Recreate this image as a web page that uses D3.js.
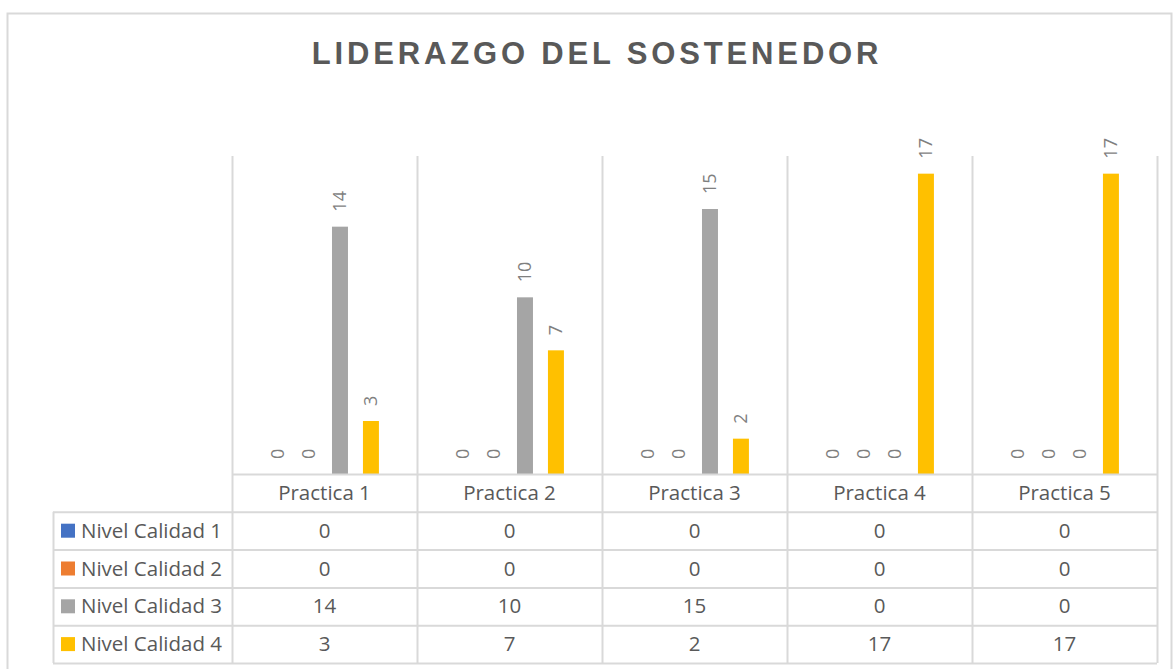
<!DOCTYPE html>
<html>
<head>
<meta charset="utf-8">
<title>Liderazgo del sostenedor</title>
<style>
  body { margin: 0; background: #fff; }
  text { font-family: "Open Sans", "Liberation Sans", sans-serif; }
</style>
</head>
<body>
<script src="https://d3js.org/d3.v7.min.js"></script>
<script>

// Data
var categories = ["Practica 1", "Practica 2", "Practica 3", "Practica 4", "Practica 5"];
var seriesNames = ["Nivel Calidad 1", "Nivel Calidad 2", "Nivel Calidad 3", "Nivel Calidad 4"];
var nivel1 = [0, 0, 0, 0, 0];
var nivel2 = [0, 0, 0, 0, 0];
var nivel3 = [14, 10, 15, 0, 0];
var nivel4 = [3, 7, 2, 17, 17];
var colors = ["#4472C4", "#ED7D31", "#A5A5A5", "#FFC000"];

var values = [nivel1, nivel2, nivel3, nivel4];

var W = 1174, H = 669;
var plotLeft = 232, plotRight = 1157, plotTop = 156, baseY = 474, tableBottom = 663, legendLeft = 53;
var grid = "#d9d9d9", textCol = "#595959";

var svg = d3.select("body").append("svg")
    .attr("width", W)
    .attr("height", H);

// outer frame
svg.append("rect")
    .attr("x", 7.5).attr("y", 13.5)
    .attr("width", 1164).attr("height", 700)
    .attr("fill", "none").attr("stroke", grid).attr("stroke-width", 2);

// title
svg.append("text")
    .attr("x", 597).attr("y", 64)
    .attr("text-anchor", "middle")
    .style("font-family", "'Liberation Sans', Arial, sans-serif")
    .style("font-size", "31px")
    .style("font-weight", "bold")
    .style("letter-spacing", "3.85px")
    .attr("fill", textCol)
    .text("LIDERAZGO DEL SOSTENEDOR");

// scales
var x0 = d3.scaleBand().domain(categories).range([plotLeft, plotRight]).padding(0);
var x1 = d3.scaleBand().domain(seriesNames).range([0, x0.bandwidth()])
    .paddingInner(0.484).paddingOuter(1.23);
var y = d3.scaleLinear().domain([0, 18]).range([baseY, plotTop]);

// vertical gridlines in plot area
var bounds = categories.map(function(c) { return x0(c); }).concat([plotRight]);
svg.selectAll(".vline")
    .data(bounds)
  .enter().append("line")
    .attr("x1", function(d) { return d + 0.5; })
    .attr("x2", function(d) { return d + 0.5; })
    .attr("y1", plotTop).attr("y2", baseY)
    .attr("stroke", grid).attr("stroke-width", 2);

// bars + labels
seriesNames.forEach(function(s, i) {
  var g = svg.append("g");
  g.selectAll("rect")
      .data(values[i])
    .enter().append("rect")
      .attr("x", function(d, j) { return x0(categories[j]) + x1(s); })
      .attr("width", x1.bandwidth())
      .attr("y", function(d) { return y(d); })
      .attr("height", function(d) { return baseY - y(d); })
      .attr("fill", colors[i]);

  g.selectAll("text")
      .data(values[i])
    .enter().append("text")
      .attr("transform", function(d, j) {
        var cx = x0(categories[j]) + x1(s) + x1.bandwidth() / 2;
        return "translate(" + cx + "," + (y(d) - 15) + ")rotate(-90)";
      })
      .attr("dy", "0.35em")
      .style("font-size", "18px")
      .attr("fill", "#7f7f7f")
      .text(function(d) { return d; });
});

// data table
var rows = d3.scaleBand().domain(["header"].concat(seriesNames)).range([baseY, tableBottom]);
var rh = rows.bandwidth();

// horizontal lines
svg.append("line")
    .attr("x1", plotLeft).attr("x2", plotRight)
    .attr("y1", baseY + 0.5).attr("y2", baseY + 0.5)
    .attr("stroke", grid).attr("stroke-width", 2);
seriesNames.forEach(function(s) {
  svg.append("line")
      .attr("x1", legendLeft).attr("x2", plotRight)
      .attr("y1", rows(s) + 0.5).attr("y2", rows(s) + 0.5)
      .attr("stroke", grid).attr("stroke-width", 2);
});
svg.append("line")
    .attr("x1", legendLeft).attr("x2", plotRight)
    .attr("y1", tableBottom + 0.5).attr("y2", tableBottom + 0.5)
    .attr("stroke", grid).attr("stroke-width", 2);

// vertical lines in table
bounds.forEach(function(b) {
  svg.append("line")
      .attr("x1", b + 0.5).attr("x2", b + 0.5)
      .attr("y1", baseY).attr("y2", tableBottom)
      .attr("stroke", grid).attr("stroke-width", 2);
});
svg.append("line")
    .attr("x1", legendLeft + 0.5).attr("x2", legendLeft + 0.5)
    .attr("y1", rows(seriesNames[0])).attr("y2", tableBottom)
    .attr("stroke", grid).attr("stroke-width", 2);

// header texts
svg.selectAll(".cat")
    .data(categories)
  .enter().append("text")
    .attr("x", function(d) { return x0(d) + x0.bandwidth() / 2; })
    .attr("y", rows("header") + rh / 2)
    .attr("dy", "0.35em")
    .attr("text-anchor", "middle")
    .style("font-size", "20.5px")
    .attr("fill", textCol)
    .text(function(d) { return d; });

// legend cells and values
seriesNames.forEach(function(s, i) {
  var cy = rows(s) + rh / 2;
  svg.append("rect")
      .attr("x", 61).attr("y", cy - 7)
      .attr("width", 14).attr("height", 14)
      .attr("fill", colors[i]);
  svg.append("text")
      .attr("x", 81).attr("y", cy)
      .attr("dy", "0.35em")
      .style("font-size", "20.5px")
      .attr("fill", textCol)
      .text(s);
  svg.selectAll(".v" + i)
      .data(values[i])
    .enter().append("text")
      .attr("x", function(d, j) { return x0(categories[j]) + x0.bandwidth() / 2; })
      .attr("y", cy)
      .attr("dy", "0.35em")
      .attr("text-anchor", "middle")
      .style("font-size", "20.5px")
      .attr("fill", textCol)
      .text(function(d) { return d; });
});

</script>
</body>
</html>
